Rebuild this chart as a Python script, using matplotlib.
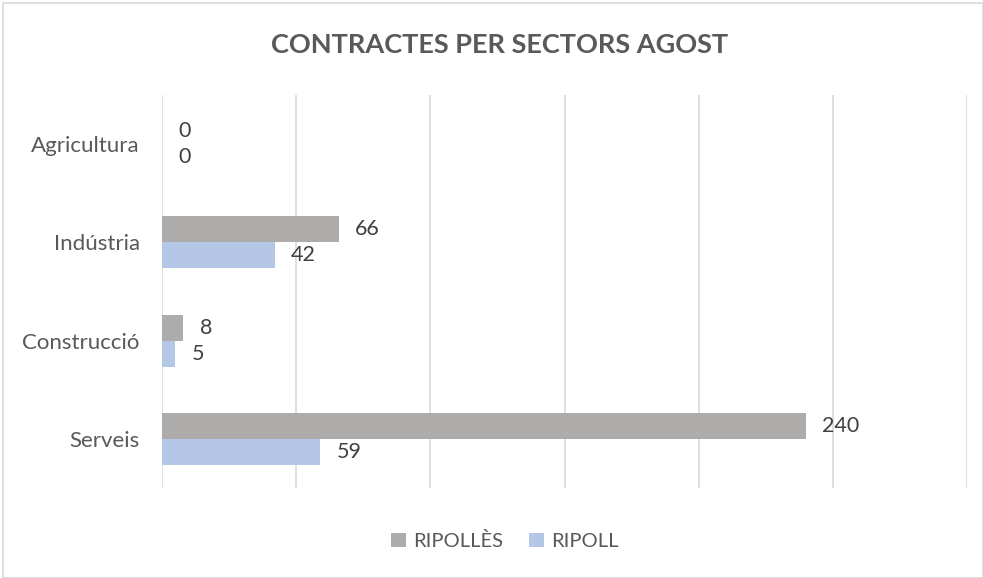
import matplotlib
matplotlib.use('Agg')
from matplotlib import pyplot as plt
from matplotlib.patches import Rectangle
import numpy as np

# Data
sectors = ['Agricultura', 'Indústria', 'Construcció', 'Serveis']
ripolles = [0, 66, 8, 240]
ripoll = [0, 42, 5, 59]
series_names = ['RIPOLLÈS', 'RIPOLL']

col_ripolles = '#AEABAB'
col_ripoll = '#B4C7E7'
txt = '#595959'

plt.rcParams['font.family'] = ['Lato', 'DejaVu Sans']

fig = plt.figure(figsize=(9.83, 5.78), dpi=100)
ax = fig.add_axes([162/983, 1 - 488/578, (967 - 162)/983, (488 - 95)/578])

# border round the whole chart
fig.patches.append(Rectangle((3/983, 0), 1 - 3/983, 1 - 3/578, transform=fig.transFigure,
                             fill=False, edgecolor='#D9D9D9', linewidth=1.2))

y = np.arange(len(sectors))
h = 0.265
ax.barh(y - h/2, ripolles, height=h, color=col_ripolles, label=series_names[0], zorder=3)
ax.barh(y + h/2, ripoll, height=h, color=col_ripoll, label=series_names[1], zorder=3)

# data labels
for i in range(len(sectors)):
    ax.text(ripolles[i] + 6, y[i] - h/2, str(ripolles[i]), va='center', ha='left',
            fontsize=15.5, color='#404040')
    ax.text(ripoll[i] + 6, y[i] + h/2, str(ripoll[i]), va='center', ha='left',
            fontsize=15.5, color='#404040')

ax.set_xlim(0, 300)
ax.set_ylim(len(sectors) - 0.5, -0.5)
ax.set_xticks(np.arange(0, 301, 50))
ax.set_xticklabels([])
ax.tick_params(axis='x', length=0)
ax.tick_params(axis='y', length=0, labelsize=16, labelcolor=txt, pad=16)
ax.set_yticks(y)
ax.set_yticklabels(sectors)
ax.grid(axis='x', color='#D9D9D9', linewidth=1.2, zorder=0)
for s in ax.spines.values():
    s.set_visible(False)

fig.text(500/983, 1 - 45/578, 'CONTRACTES PER SECTORS AGOST', ha='center', va='center',
         fontsize=19.5, fontweight='bold', color=txt)

fig.legend(loc='center', bbox_to_anchor=(505/983, 1 - 541/578), ncol=2, frameon=False,
           fontsize=14.5, labelcolor=txt, handlelength=0.75, handleheight=0.75,
           handletextpad=0.35, columnspacing=1.3)

fig.savefig('out.png', dpi=100)
